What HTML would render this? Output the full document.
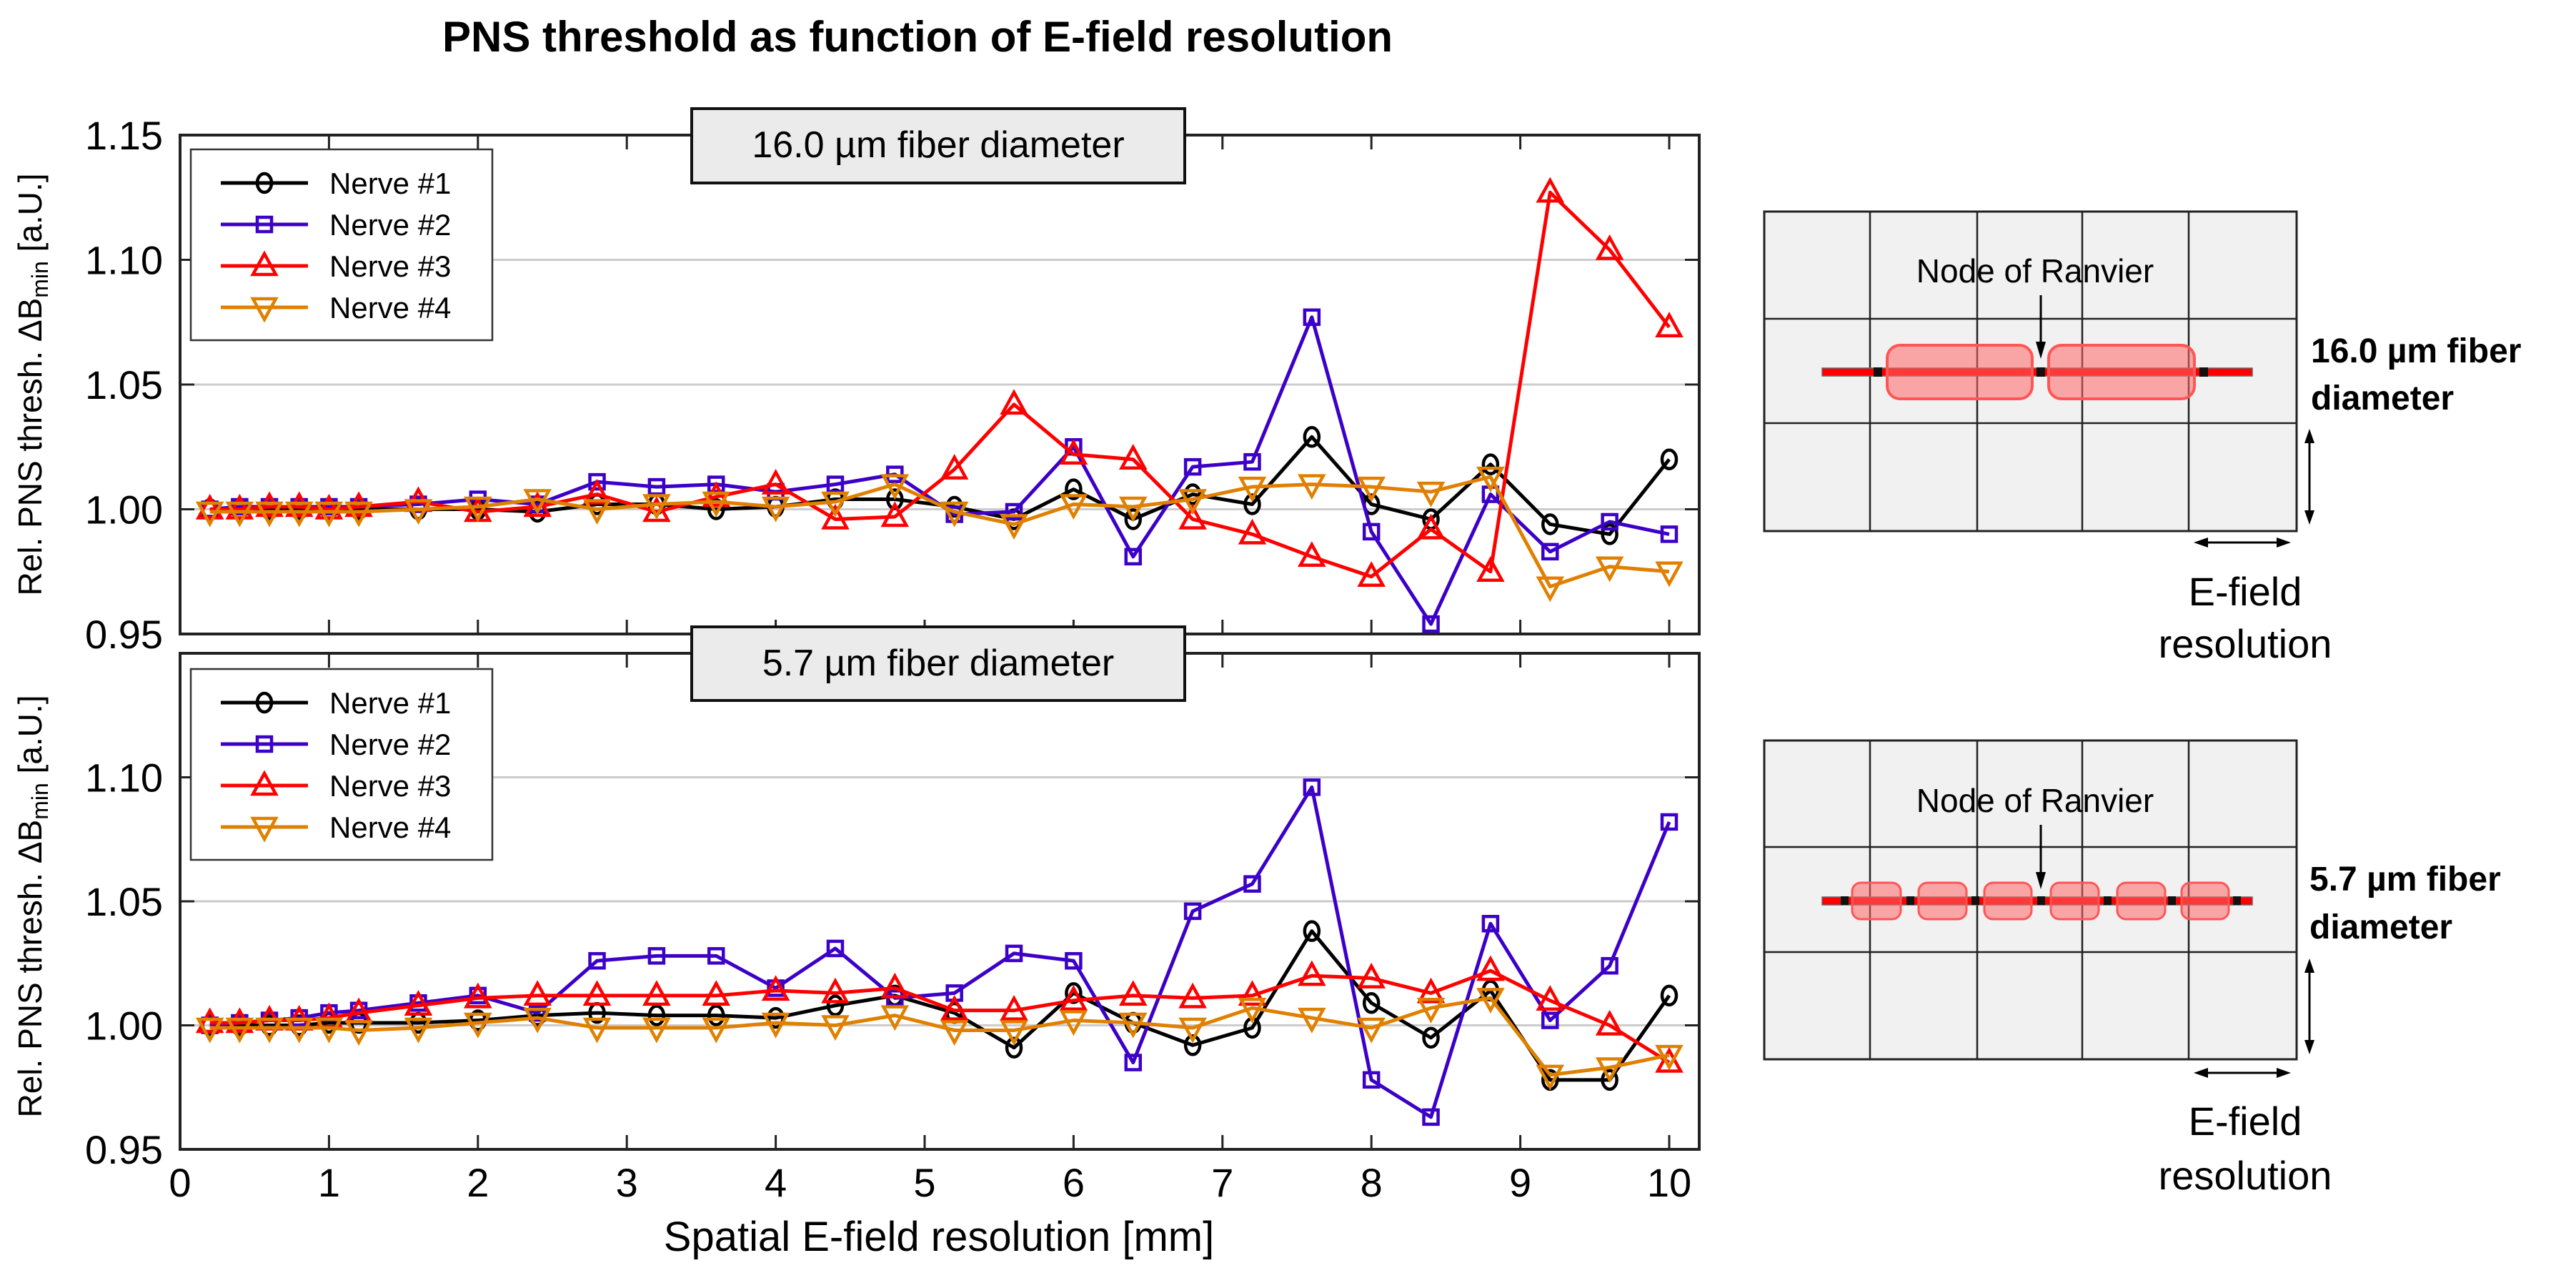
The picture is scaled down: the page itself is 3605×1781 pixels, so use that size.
<!DOCTYPE html>
<html><head><meta charset="utf-8">
<style>
html,body{margin:0;padding:0;background:#fff;}
svg{display:block;font-family:"Liberation Sans",sans-serif;}
</style></head>
<body>
<svg id="fig" width="3605" height="1781" viewBox="0 0 3605 1781" xmlns="http://www.w3.org/2000/svg">
<rect x="0" y="0" width="3605" height="1781" fill="#fff"/>
<text x="1284" y="72" font-size="60" font-weight="bold" text-anchor="middle">PNS threshold as function of E-field resolution</text>
<g id="plots"></g>
<text x="1314" y="1750" font-size="58" text-anchor="middle">Spatial E-field resolution [mm]</text>

<!-- Diagram top -->
<g>
  <rect x="2469" y="296" width="745" height="447" fill="#f1f1f1" stroke="#222" stroke-width="3"/>
  <g stroke="#222" stroke-width="2.5">
    <line x1="2617" y1="296" x2="2617" y2="743"/><line x1="2767" y1="296" x2="2767" y2="743"/>
    <line x1="2914" y1="296" x2="2914" y2="743"/><line x1="3063" y1="296" x2="3063" y2="743"/>
    <line x1="2469" y1="446" x2="3214" y2="446"/><line x1="2469" y1="592" x2="3214" y2="592"/>
  </g>
  <rect x="2550" y="515" width="602" height="11" fill="#ff0000" stroke="#666" stroke-width="1.5"/>
  <rect x="2641" y="483" width="203" height="75" rx="18" fill="#ff6666" fill-opacity="0.55" stroke="#ff5555" stroke-width="4"/>
  <rect x="2867" y="483" width="204" height="75" rx="18" fill="#ff6666" fill-opacity="0.55" stroke="#ff5555" stroke-width="4"/>
  <g fill="#111"><rect x="2622" y="514" width="12" height="13"/><rect x="2850" y="514" width="12" height="13"/><rect x="3078" y="514" width="12" height="13"/></g>
  <text x="2848" y="395" font-size="46" text-anchor="middle">Node of Ranvier</text>
  <line x1="2856" y1="413" x2="2856" y2="490" stroke="#000" stroke-width="3"/>
  <polygon points="2849,478 2863,478 2856,502" fill="#000"/>
  <text x="3234" y="507" font-size="48" font-weight="bold">16.0 µm fiber</text>
  <text x="3234" y="573" font-size="48" font-weight="bold">diameter</text>
  <line x1="3232" y1="606" x2="3232" y2="728" stroke="#000" stroke-width="3"/>
  <polygon points="3225,620 3239,620 3232,600" fill="#000"/><polygon points="3225,714 3239,714 3232,734" fill="#000"/>
  <line x1="3076" y1="759" x2="3200" y2="759" stroke="#000" stroke-width="3"/>
  <polygon points="3090,752 3090,766 3070,759" fill="#000"/><polygon points="3186,752 3186,766 3206,759" fill="#000"/>
  <text x="3142" y="847" font-size="56" text-anchor="middle">E-field</text>
  <text x="3142" y="920" font-size="56" text-anchor="middle">resolution</text>
</g>

<!-- Diagram bottom -->
<g>
  <rect x="2469" y="1036" width="745" height="446" fill="#f1f1f1" stroke="#222" stroke-width="3"/>
  <g stroke="#222" stroke-width="2.5">
    <line x1="2617" y1="1036" x2="2617" y2="1482"/><line x1="2767" y1="1036" x2="2767" y2="1482"/>
    <line x1="2914" y1="1036" x2="2914" y2="1482"/><line x1="3063" y1="1036" x2="3063" y2="1482"/>
    <line x1="2469" y1="1185" x2="3214" y2="1185"/><line x1="2469" y1="1332" x2="3214" y2="1332"/>
  </g>
  <rect x="2550" y="1255" width="602" height="11" fill="#ff0000" stroke="#666" stroke-width="1.5"/>
  <g fill="#ff6666" fill-opacity="0.55" stroke="#ff5555" stroke-width="3">
    <rect x="2592" y="1235" width="68" height="51" rx="12"/><rect x="2685" y="1235" width="67" height="51" rx="12"/>
    <rect x="2777" y="1235" width="66" height="51" rx="12"/><rect x="2870" y="1235" width="67" height="51" rx="12"/>
    <rect x="2963" y="1235" width="67" height="51" rx="12"/><rect x="3053" y="1235" width="66" height="51" rx="12"/>
  </g>
  <g fill="#111"><rect x="2576" y="1254" width="11" height="12"/><rect x="2668" y="1254" width="11" height="12"/><rect x="2759" y="1254" width="11" height="12"/><rect x="2851" y="1254" width="11" height="12"/><rect x="2944" y="1254" width="11" height="12"/><rect x="3034" y="1254" width="11" height="12"/><rect x="3125" y="1254" width="11" height="12"/></g>
  <text x="2848" y="1136" font-size="46" text-anchor="middle">Node of Ranvier</text>
  <line x1="2856" y1="1154" x2="2856" y2="1232" stroke="#000" stroke-width="3"/>
  <polygon points="2849,1220 2863,1220 2856,1244" fill="#000"/>
  <text x="3232" y="1246" font-size="48" font-weight="bold">5.7 µm fiber</text>
  <text x="3232" y="1313" font-size="48" font-weight="bold">diameter</text>
  <line x1="3232" y1="1347" x2="3232" y2="1469" stroke="#000" stroke-width="3"/>
  <polygon points="3225,1361 3239,1361 3232,1341" fill="#000"/><polygon points="3225,1455 3239,1455 3232,1475" fill="#000"/>
  <line x1="3076" y1="1501" x2="3200" y2="1501" stroke="#000" stroke-width="3"/>
  <polygon points="3090,1494 3090,1508 3070,1501" fill="#000"/><polygon points="3186,1494 3186,1508 3206,1501" fill="#000"/>
  <text x="3142" y="1588" font-size="56" text-anchor="middle">E-field</text>
  <text x="3142" y="1664" font-size="56" text-anchor="middle">resolution</text>
</g>
</svg>
<script>
const xValues = [0.2,0.4,0.6,0.8,1.0,1.2,1.6,2.0,2.4,2.8,3.2,3.6,4.0,4.4,4.8,5.2,5.6,6.0,6.4,6.8,7.2,7.6,8.0,8.4,8.8,9.2,9.6,10.0];
const xTicks = [0,1,2,3,4,5,6,7,8,9,10];
const yTicks = [0.95,1.00,1.05,1.10,1.15];
const yTickLabels = ["0.95","1.00","1.05","1.10","1.15"];
const seriesNames = ["Nerve #1","Nerve #2","Nerve #3","Nerve #4"];
const panelTitles = ["16.0 µm fiber diameter","5.7 µm fiber diameter"];
// Top panel (16.0 um)
const top1 = [1.000,1.000,1.000,1.000,1.000,1.000,1.000,1.000,0.999,1.002,1.002,1.000,1.001,1.004,1.004,1.001,0.996,1.008,0.996,1.006,1.002,1.029,1.002,0.996,1.018,0.994,0.990,1.020];
const top2 = [1.000,1.001,1.001,1.001,1.001,1.001,1.002,1.004,1.002,1.011,1.009,1.010,1.007,1.010,1.014,0.998,0.999,1.025,0.981,1.017,1.019,1.077,0.991,0.954,1.006,0.983,0.995,0.990];
const top3 = [1.000,1.000,1.001,1.001,1.000,1.001,1.003,0.999,1.001,1.006,0.999,1.005,1.010,0.996,0.997,1.016,1.042,1.022,1.020,0.996,0.990,0.981,0.973,0.992,0.975,1.127,1.104,1.073];
const top4 = [0.999,0.999,0.999,0.999,0.999,0.999,1.000,1.001,1.004,1.000,1.002,1.003,1.001,1.003,1.010,0.999,0.994,1.002,1.001,1.004,1.009,1.010,1.009,1.007,1.013,0.969,0.977,0.975];
// Bottom panel (5.7 um)
const bot1 = [1.000,1.000,1.000,1.000,1.001,1.001,1.001,1.002,1.004,1.005,1.004,1.004,1.003,1.008,1.012,1.005,0.991,1.013,1.001,0.992,0.999,1.038,1.009,0.995,1.014,0.978,0.978,1.012];
const bot2 = [1.000,1.001,1.002,1.003,1.005,1.006,1.009,1.012,1.005,1.026,1.028,1.028,1.015,1.031,1.011,1.013,1.029,1.026,0.985,1.046,1.057,1.096,0.978,0.963,1.041,1.002,1.024,1.082];
const bot3 = [1.001,1.001,1.002,1.002,1.003,1.005,1.008,1.011,1.012,1.012,1.012,1.012,1.014,1.013,1.015,1.006,1.006,1.010,1.012,1.011,1.012,1.020,1.019,1.013,1.022,1.010,1.000,0.985];
const bot4 = [0.999,0.999,0.999,0.999,0.999,0.998,0.999,1.001,1.003,0.999,0.999,0.999,1.001,1.000,1.004,0.998,0.998,1.002,1.001,0.999,1.007,1.003,0.999,1.007,1.011,0.980,0.983,0.988];

const NS="http://www.w3.org/2000/svg";
const colors=["#000000","#3c00c8","#ff0000","#e08000"];
const markers=["circle","square","tri-up","tri-down"];
const X0=252, XUNIT=208.4, XRIGHT=2378;
function xScale(v){return X0+v*XUNIT;}
function mk(tag,attrs,parent){const e=document.createElementNS(NS,tag);for(const k in attrs)e.setAttribute(k,attrs[k]);parent.appendChild(e);return e;}
function marker(type,cx,cy,color,g){
  const sw=4.5;
  if(type==="circle") return mk("ellipse",{cx:cx,cy:cy,rx:10,ry:13,fill:"none",stroke:color,"stroke-width":sw},g);
  if(type==="square") return mk("rect",{x:cx-10,y:cy-10,width:20,height:20,fill:"none",stroke:color,"stroke-width":sw},g);
  if(type==="tri-up") return mk("polygon",{points:`${cx},${cy-17} ${cx+16},${cy+12} ${cx-16},${cy+12}`,fill:"none",stroke:color,"stroke-width":sw},g);
  return mk("polygon",{points:`${cx},${cy+17} ${cx+16},${cy-12} ${cx-16},${cy-12}`,fill:"none",stroke:color,"stroke-width":sw},g);
}
const plots=document.getElementById("plots");
const panels=[{top:189,bot:887,data:[top1,top2,top3,top4],box:[152,256],leg:209,yl:538},
              {top:914,bot:1608,data:[bot1,bot2,bot3,bot4],box:[877,980],leg:936,yl:1268}];
panels.forEach((p,pi)=>{
  const g=mk("g",{},plots);
  
  
  const yScale=v=>p.bot-(v-0.95)/0.20*(p.bot-p.top);
  yTicks.forEach(t=>{ if(t>0.951&&t<1.149){const l=mk("line",{x1:X0,x2:XRIGHT,y1:yScale(t),y2:yScale(t),stroke:"#cccccc","stroke-width":3},g);
    
    }});
  const fr=mk("rect",{x:X0,y:p.top,width:XRIGHT-X0,height:p.bot-p.top,fill:"none",stroke:"#222","stroke-width":4},g);
  
  
  xTicks.forEach(t=>{const x=xScale(t);
    mk("line",{x1:x,x2:x,y1:p.bot,y2:p.bot-20,stroke:"#222","stroke-width":3},g);
    mk("line",{x1:x,x2:x,y1:p.top,y2:p.top+20,stroke:"#222","stroke-width":3},g);
    if(pi===1){const tx=mk("text",{x:x,y:1674,"font-size":56,"text-anchor":"middle"},g);tx.textContent=String(t);
      
      }
  });
  yTicks.forEach((t,i)=>{const y=yScale(t);
    mk("line",{x1:X0,x2:X0+20,y1:y,y2:y,stroke:"#222","stroke-width":3},g);
    mk("line",{x1:XRIGHT,x2:XRIGHT-20,y1:y,y2:y,stroke:"#222","stroke-width":3},g);
    if(pi===1 && t>1.149) return;
    const tx=mk("text",{x:228,y:y+20,"font-size":56,"text-anchor":"end"},g);tx.textContent=yTickLabels[i];
    
    
  });
  const yt=mk("text",{transform:`translate(58,${p.yl}) rotate(-90)`,"font-size":46,"text-anchor":"middle"},g);
  
  
  yt.innerHTML='Rel. PNS thresh. ΔB<tspan font-size="32" dy="9">min</tspan><tspan dy="-9"> [a.U.]</tspan>';
  p.data.forEach((arr,si)=>{
    const sg=mk("g",{},g);
    
    
    const pts=arr.map((v,i)=>xScale(xValues[i])+","+yScale(v)).join(" ");
    const pl=mk("polyline",{points:pts,fill:"none",stroke:colors[si],"stroke-width":5,"stroke-linejoin":"round"},sg);
    
    
    arr.forEach((v,i)=>{const m=marker(markers[si],xScale(xValues[i]),yScale(v),colors[si],sg);
      
      });
  });
  const bx=mk("rect",{x:968,y:p.box[0],width:690,height:p.box[1]-p.box[0],fill:"#ebebeb",stroke:"#111","stroke-width":4},g);
  
  
  const bt=mk("text",{x:1313,y:p.box[0]+68,"font-size":52,"text-anchor":"middle"},g);
  bt.textContent=panelTitles[pi];
  
  
  const lg=mk("g",{},g);
  
  
  mk("rect",{x:267,y:p.leg,width:422,height:267,fill:"#fff",stroke:"#333","stroke-width":2.5},lg);
  seriesNames.forEach((n,si)=>{
    const y=p.leg+47+si*58;
    const e=mk("g",{},lg);
    
    
    mk("line",{x1:309,x2:431,y1:y,y2:y,stroke:colors[si],"stroke-width":5},e);
    marker(markers[si],370,y,colors[si],e);
    const t=mk("text",{x:461,y:y+15,"font-size":42},e);t.textContent=n;
  });
});
</script>
</body></html>
